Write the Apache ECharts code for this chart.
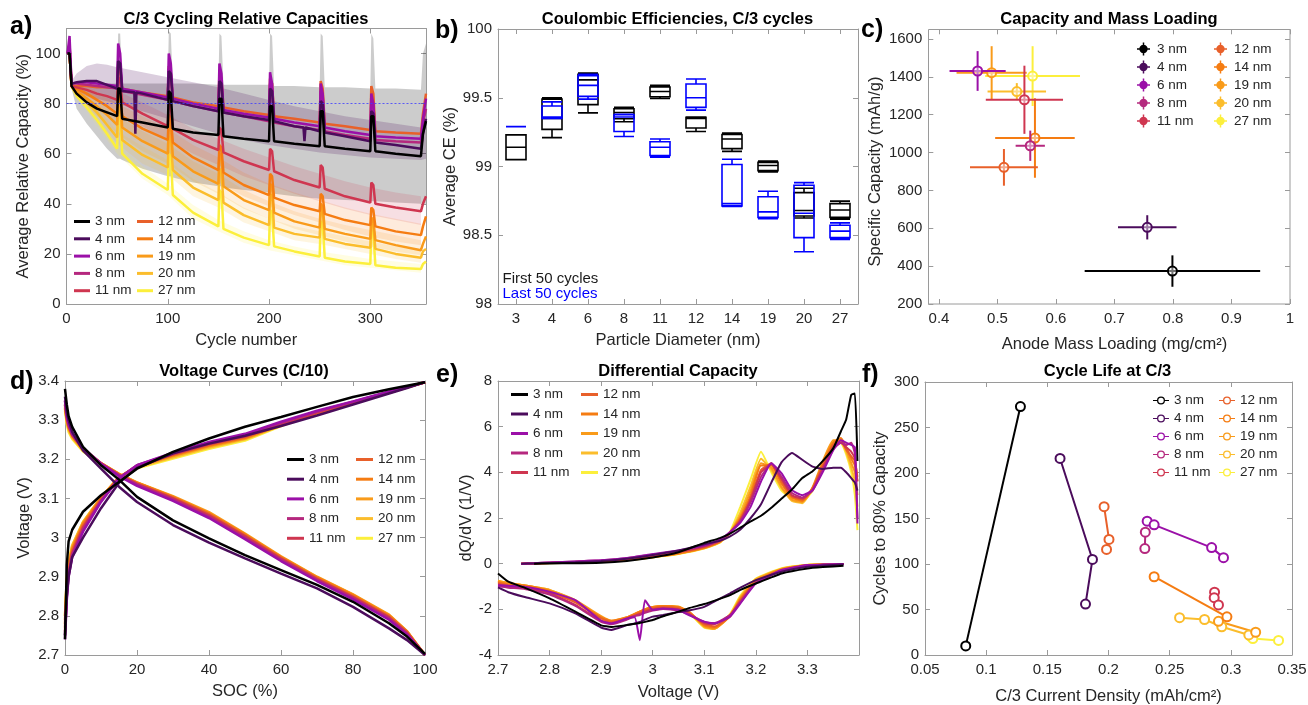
<!DOCTYPE html>
<html>
<head>
<meta charset="utf-8">
<script src="https://cdn.jsdelivr.net/npm/echarts@6/dist/echarts.min.js"></script>
<style>
  html, body { margin: 0; padding: 0; background: #fff; }
  #main { width: 1308px; height: 705px; }
</style>
</head>
<body>
<div id="main"></div>
<script>
const N = null;

const sizeNames = ['3 nm', '4 nm', '6 nm', '8 nm', '11 nm', '12 nm', '14 nm', '19 nm', '20 nm', '27 nm'];
const sizeColors = ['#000000', '#4b0c5c', '#9b10a8', '#b5287e', '#cf3650', '#e8602a', '#f57c12', '#f99b1a', '#fbbd2c', '#fcef3c'];

// ---- a) C/3 cycling relative capacities ----
const aCycle = [1, 3, 5, 10, 20, 30, 40, 50, 51, 53, 55, 67, 68, 69, 75, 100, 101, 103, 105, 125, 150, 151, 153, 155, 175, 200, 201, 203, 205, 225, 234, 235, 236, 250, 251, 253, 255, 275, 300, 301, 303, 305, 325, 350, 352, 355];
const a3 = [100, 100, 87, 84, 80.5, 78, 76.5, 75, 86, 86, 74, N, N, N, 72.5, 70.5, 85, 84, 70, 68.5, 67.5, 82, 82, 67, 66, 65, 79, 79, 65, 64, N, N, N, 63, 77, 77, 63, 62, 61, 75, 75, 61, 60, 59, 68, 73];
const a4 = [100, 100, 88, 88.5, 89, 89, 87.5, 86, 97, 96, 85, 84.5, 68, 84.5, 84, 81.5, 93, 92, 81, 79, 77, 89, 88, 76.5, 75, 73.5, 86, 85, 73, 71, 70.5, 65, 70.5, 69, 81, 80, 68.5, 67, 65, 77, 76, 64.5, 63.5, 62, 68, 74];
const a6 = [100, 107, 88, 88.5, 88.5, 88, 87.5, 87, 104, 100, 86, N, N, N, 84.5, 82.5, 100, 96, 82, 80, 78, 96, 92, 77.5, 76, 74.5, 92.5, 88, 74, 72.5, N, N, N, 71, 88, 84, 70.5, 69, 67.5, 84, 80, 67, 66.5, 66, 74, 82];
const a8 = [100, 104, 88, 88, 87.5, 87, 86.5, 86, 97, 95, 85, N, N, N, 83.5, 81.5, 94, 92, 81, 79, 77, 91, 89, 76.5, 75, 73, 88, 86, 72.5, 71, N, N, N, 69.5, 85, 83, 69, 67.5, 66, 82, 80, 65.5, 65, 64.5, 72, 78];
const a11 = [100, 100, 87, 86.5, 85.5, 84, 83, 81.5, 90.5, 89.5, 80.5, N, N, N, 76, 71, 80, 79, 70, 65.5, 61.5, 70.5, 69.5, 60.5, 57, 53.5, 62, 61, 53, 49.5, N, N, N, 46.5, 55.5, 54.5, 46, 43, 40.5, 48.5, 47.5, 40, 38.5, 37, 40, 43];
const a12 = [100, 103, 87, 87, 87, 86.5, 86.5, 86.5, 95, 93, 86, N, N, N, 84.5, 83, 95, 92, 82.5, 80.5, 79, 92, 90, 78.5, 77, 75.5, 90, 88, 75, 74, N, N, N, 72.5, 89, 86, 72, 71, 69.5, 87, 84, 69, 68.5, 68, 76, 84];
const a14 = [100, 100, 87, 86, 84, 81.5, 79, 76, 86, 85, 75, N, N, N, 70, 65.5, 75.5, 74.5, 64.5, 58.5, 53.5, 63.5, 62.5, 52.5, 47.5, 43.5, 52, 51, 42.5, 39.5, N, N, N, 37, 44, 43, 36, 33.5, 31.5, 38.5, 37.5, 31, 29, 27.5, 31, 35];
const a19 = [100, 100, 87, 85, 82, 79, 75.5, 71.5, 83, 82, 70.5, N, N, N, 65, 60, 72, 71, 59, 53, 48, 60, 59, 47, 41.5, 37.5, 48, 47, 36.5, 33, N, N, N, 30.5, 40, 39, 30, 28, 26, 34.5, 33.5, 25.5, 23.5, 21.5, 24, 27];
const a20 = [100, 100, 87, 84, 80.5, 76.5, 71.5, 66.5, 79, 78, 65.5, N, N, N, 59.5, 54.5, 67, 66, 53.5, 46.5, 41.5, 54, 53, 40.5, 35.5, 31.5, 44, 43, 30.5, 28, N, N, N, 26.5, 38, 37, 26, 24, 22.5, 32, 31, 22, 20, 18.5, 21, 22];
const a27 = [100, 100, 87, 83, 78.5, 73.5, 68, 62, 76, 75, 60, N, N, N, 52, 45.5, 60, 59, 43.5, 36.5, 31, 45.5, 44.5, 30, 26.5, 23.5, 37.5, 36.5, 23, 21, N, N, N, 19, 33, 32, 18.5, 17, 16, 29.5, 28.5, 15.5, 14.5, 14, 16, 17];
const threshold80 = 80;

// spread bands (min / max of cells)
const bandCycG = [3, 5, 10, 20, 30, 40, 50, 51, 53, 55, 75, 100, 101, 103, 105, 125, 150, 151, 153, 155, 175, 200, 201, 203, 205, 225, 250, 251, 253, 255, 275, 300, 301, 303, 305, 325, 350, 352, 355];
const band3Hi = [102, 88, 87.5, 87, 87.5, 88, 88, 108, 108, 88, 88, 88, 109, 108, 88, 88, 87.5, 108, 107, 87.5, 87.5, 87.5, 108, 107, 87, 87, 86.5, 108, 107, 86.5, 86.5, 86, 108, 106, 86, 86, 85.5, 100, 104];
const band3Lo = [98, 86, 78, 72, 67, 62, 58, 58, 58, 57.5, 54, 51, 51, 51, 50.5, 48.5, 47, 47, 47, 46.5, 45.5, 44.5, 44.5, 44.5, 44, 43, 42, 42, 42, 42, 41.5, 41, 41, 41, 41, 40.5, 40, 40, 40];
const bandCycP = [5, 10, 20, 30, 40, 50, 75, 100, 125, 150, 175, 200, 225, 250, 275, 300, 325, 350, 355];
const band4Hi = [89, 92, 95, 96, 95.5, 94.5, 92.5, 90.5, 88.5, 86.5, 84, 81.5, 79, 77, 75, 73.5, 72, 70.5, 72];
const band4Lo = [87, 85, 83, 82, 81, 80, 77, 74, 71, 68, 65.5, 63.5, 62, 60.5, 59.5, 58.5, 58, 57.5, 58];
const bandCycL = [5, 25, 50, 75, 100, 125, 150, 175, 200, 225, 250, 275, 300, 325, 350];
const band11Hi = [88, 88, 85, 80.5, 75.5, 70, 66, 62, 58.5, 55, 52, 49, 46.5, 44.5, 43];
const band11Lo = [86, 82, 77, 71, 65.5, 60, 55.5, 51, 47.5, 44, 41, 38, 35.5, 33.5, 31.5];
const band14Hi = [88, 86, 80, 75, 70, 63.5, 58.5, 52.5, 48, 44.5, 41.5, 38.5, 36, 34, 32];
const band14Lo = [86, 79, 72, 65, 60, 53.5, 48.5, 43, 39, 35.5, 32.5, 29.5, 27, 25, 23.5];
const band19Hi = [88, 84, 75, 69, 64, 57, 52, 45.5, 41, 37, 34, 31.5, 29.5, 27.5, 25.5];
const band19Lo = [86, 77, 68, 61, 56, 49, 44, 38, 34, 30, 27.5, 25, 23, 21, 19.5];
const band20Hi = [88, 81, 69, 63, 57.5, 50, 44.5, 38.5, 34, 31, 29, 27, 25, 23, 21.5];
const band20Lo = [86, 76, 64, 56, 51.5, 43, 38.5, 32.5, 29, 25.5, 24, 22, 20, 18, 16.5];
const band27Hi = [88, 78, 64, 55, 48, 39.5, 33.5, 29, 25.5, 23, 21, 19.5, 18, 17, 16];
const band27Lo = [86, 74, 60, 50, 43.5, 34, 29, 24.5, 21.5, 19.5, 17.5, 15.5, 14.5, 13.5, 12.5];

// ---- b) coulombic efficiencies, [min, q1, median, q3, max] ----
const bSizes = ['3', '4', '6', '8', '11', '12', '14', '19', '20', '27'];
const bFirst = [
  [99.05, 99.05, 99.14, 99.23, 99.23],
  [99.21, 99.27, 99.35, 99.49, 99.50],
  [99.39, 99.45, 99.63, 99.67, 99.68],
  [99.325, 99.347, 99.393, 99.42, 99.43],
  [99.495, 99.507, 99.546, 99.578, 99.59],
  [99.255, 99.28, 99.35, 99.357, 99.36],
  [99.11, 99.13, 99.2, 99.233, 99.243],
  [98.96, 98.97, 99.007, 99.03, 99.04],
  [98.626, 98.64, 98.68, 98.81, 98.842],
  [98.617, 98.63, 98.684, 98.73, 98.748]
];
const bLast = [
  [99.29, 99.29, 99.29, 99.29, 99.29],
  [99.35, 99.35, 99.36, 99.44, 99.47],
  [99.49, 99.51, 99.59, 99.66, 99.67],
  [99.218, 99.255, 99.36, 99.376, 99.38],
  [99.068, 99.08, 99.14, 99.18, 99.2],
  [99.41, 99.43, 99.5, 99.6, 99.636],
  [98.71, 98.714, 98.73, 99.015, 99.053],
  [98.62, 98.63, 98.67, 98.78, 98.82],
  [98.38, 98.483, 98.66, 98.864, 98.883],
  [98.47, 98.483, 98.53, 98.573, 98.59]
];

// ---- c) capacity vs mass loading ----
const cLoad = [0.799, 0.756, 0.466, 0.556, 0.546, 0.511, 0.564, 0.490, 0.533, 0.560];
const cLoadErr = [0.150, 0.050, 0.048, 0.025, 0.066, 0.058, 0.068, 0.060, 0.050, 0.081];
const cCap = [374, 605, 1431, 1036, 1279, 922, 1077, 1422, 1322, 1404];
const cCapErr = [83, 64, 105, 80, 180, 97, 210, 140, 45, 158];

// ---- d) voltage curves C/10 ----
const dSoc = [0, 0.5, 1, 2, 5, 10, 15, 20, 30, 40, 50, 60, 70, 80, 90, 95, 100];
const dChg3 = [2.74, 2.93, 2.99, 3.02, 3.066, 3.108, 3.142, 3.176, 3.219, 3.253, 3.283, 3.308, 3.334, 3.359, 3.379, 3.388, 3.397];
const dChg4 = [2.75, 2.85, 2.9, 2.95, 3.0, 3.075, 3.14, 3.178, 3.215, 3.24, 3.26, 3.285, 3.312, 3.34, 3.368, 3.382, 3.397];
const dChg6 = [2.74, 2.84, 2.9, 2.95, 3.015, 3.091, 3.151, 3.185, 3.217, 3.244, 3.265, 3.296, 3.324, 3.348, 3.373, 3.385, 3.397];
const dChg8 = [2.75, 2.85, 2.905, 2.955, 3.02, 3.093, 3.152, 3.185, 3.215, 3.242, 3.262, 3.293, 3.322, 3.347, 3.372, 3.385, 3.397];
const dChg11 = [2.76, 2.86, 2.91, 2.96, 3.025, 3.095, 3.152, 3.184, 3.213, 3.239, 3.259, 3.29, 3.32, 3.346, 3.371, 3.384, 3.397];
const dChg12 = [2.77, 2.87, 2.915, 2.965, 3.03, 3.098, 3.153, 3.183, 3.212, 3.237, 3.257, 3.289, 3.319, 3.345, 3.371, 3.384, 3.397];
const dChg14 = [2.78, 2.88, 2.925, 2.97, 3.035, 3.1, 3.154, 3.182, 3.21, 3.235, 3.255, 3.288, 3.318, 3.345, 3.37, 3.384, 3.397];
const dChg19 = [2.79, 2.89, 2.93, 2.975, 3.038, 3.102, 3.155, 3.181, 3.208, 3.233, 3.253, 3.287, 3.318, 3.344, 3.37, 3.384, 3.397];
const dChg20 = [2.8, 2.895, 2.935, 2.98, 3.04, 3.103, 3.154, 3.179, 3.205, 3.23, 3.251, 3.286, 3.317, 3.344, 3.37, 3.383, 3.397];
const dChg27 = [2.8, 2.9, 2.94, 2.98, 3.04, 3.103, 3.153, 3.177, 3.202, 3.227, 3.248, 3.285, 3.317, 3.344, 3.37, 3.383, 3.397];
const dDis3 = [3.38, 3.34, 3.31, 3.283, 3.232, 3.185, 3.148, 3.104, 3.044, 2.998, 2.955, 2.917, 2.879, 2.836, 2.781, 2.747, 2.703];
const dDis4 = [3.36, 3.32, 3.3, 3.27, 3.223, 3.176, 3.13, 3.091, 3.032, 2.987, 2.947, 2.908, 2.87, 2.823, 2.768, 2.738, 2.7];
const dDis6 = [3.35, 3.31, 3.29, 3.265, 3.228, 3.188, 3.157, 3.132, 3.094, 3.05, 2.996, 2.94, 2.889, 2.842, 2.79, 2.752, 2.7];
const dDis8 = [3.35, 3.31, 3.29, 3.266, 3.229, 3.19, 3.159, 3.135, 3.097, 3.053, 2.999, 2.943, 2.891, 2.845, 2.793, 2.754, 2.7];
const dDis11 = [3.34, 3.305, 3.285, 3.262, 3.226, 3.189, 3.16, 3.137, 3.1, 3.057, 3.003, 2.946, 2.894, 2.848, 2.796, 2.757, 2.7];
const dDis12 = [3.34, 3.305, 3.285, 3.262, 3.226, 3.19, 3.161, 3.138, 3.102, 3.06, 3.005, 2.948, 2.896, 2.85, 2.798, 2.758, 2.7];
const dDis14 = [3.335, 3.3, 3.28, 3.26, 3.225, 3.19, 3.162, 3.14, 3.104, 3.062, 3.008, 2.95, 2.898, 2.853, 2.801, 2.76, 2.7];
const dDis19 = [3.33, 3.3, 3.28, 3.258, 3.224, 3.19, 3.163, 3.141, 3.106, 3.065, 3.01, 2.952, 2.9, 2.855, 2.803, 2.761, 2.7];
const dDis20 = [3.33, 3.295, 3.275, 3.255, 3.222, 3.19, 3.163, 3.14, 3.104, 3.062, 3.008, 2.95, 2.899, 2.854, 2.802, 2.76, 2.7];
const dDis27 = [3.325, 3.29, 3.27, 3.252, 3.22, 3.188, 3.161, 3.138, 3.1, 3.058, 3.004, 2.947, 2.896, 2.85, 2.798, 2.757, 2.7];

// ---- e) differential capacity ----
const eVc = [2.745, 2.77, 2.8, 2.85, 2.9, 2.95, 3.0, 3.05, 3.1, 3.13, 3.15, 3.17, 3.19, 3.21, 3.23, 3.25, 3.27, 3.29, 3.31, 3.33, 3.35, 3.365, 3.375, 3.385, 3.392, 3.397];
const eCh3 = [N, 0, 0.01, 0.02, 0.04, 0.12, 0.27, 0.5, 0.91, 1.12, 1.32, 1.58, 1.85, 2.1, 2.45, 2.85, 3.25, 3.75, 4.05, 4.5, 5.05, 5.8, 6.3, 7.4, 7.45, 4.5];
const eCh4 = [0, 0.01, 0.03, 0.06, 0.12, 0.22, 0.38, 0.58, 0.85, 1.0, 1.2, 1.5, 2.0, 2.6, 3.55, 4.45, 4.85, 4.55, 4.25, 4.15, 4.2, 4.2, 4.0, 3.75, 3.55, 3.2];
const eCh6 = [0, 0.02, 0.05, 0.1, 0.15, 0.25, 0.42, 0.58, 0.8, 1.05, 1.39, 1.8, 2.5, 3.6, 4.4, 3.95, 3.22, 3.0, 3.22, 4.02, 4.97, 5.4, 5.3, 5.2, 5.1, 1.76];
const eCh8 = [0, 0.02, 0.05, 0.1, 0.15, 0.24, 0.4, 0.56, 0.78, 1.03, 1.38, 1.85, 2.7, 3.8, 4.4, 3.8, 3.1, 2.9, 3.2, 4.1, 5.0, 5.3, 5.2, 5.3, 4.8, 2.0];
const eCh11 = [0, 0.01, 0.04, 0.08, 0.13, 0.22, 0.37, 0.52, 0.75, 1.0, 1.37, 1.9, 2.8, 4.0, 4.35, 3.7, 3.0, 2.85, 3.25, 4.2, 5.1, 5.3, 5.1, 4.9, 4.6, 3.6];
const eCh12 = [0, 0.01, 0.03, 0.07, 0.12, 0.2, 0.34, 0.5, 0.72, 0.98, 1.36, 1.95, 2.9, 4.1, 4.4, 3.6, 2.95, 2.8, 3.3, 4.3, 5.2, 5.4, 5.0, 4.7, 4.5, 3.8];
const eCh14 = [0, 0.01, 0.03, 0.06, 0.1, 0.18, 0.3, 0.45, 0.7, 0.95, 1.35, 2.0, 3.0, 4.3, 4.3, 3.5, 2.9, 2.75, 3.3, 4.4, 5.3, 5.5, 5.1, 4.6, 4.3, 3.6];
const eCh19 = [0, 0.01, 0.03, 0.06, 0.1, 0.17, 0.29, 0.44, 0.68, 0.94, 1.36, 2.1, 3.2, 4.4, 4.2, 3.35, 2.8, 2.7, 3.35, 4.5, 5.4, 5.4, 5.0, 4.4, 4.0, 3.0];
const eCh20 = [0, 0.01, 0.03, 0.05, 0.09, 0.16, 0.28, 0.43, 0.67, 0.93, 1.38, 2.25, 3.4, 4.6, 4.1, 3.3, 2.75, 2.65, 3.3, 4.4, 5.3, 5.3, 4.9, 4.2, 3.6, 2.5];
const eCh27 = [0, 0.01, 0.02, 0.05, 0.09, 0.15, 0.27, 0.42, 0.66, 0.92, 1.4, 2.5, 3.7, 4.9, 4.0, 3.2, 2.85, 2.7, 3.2, 4.38, 5.33, 5.3, 4.8, 4.0, 3.0, 1.47];
const eVd = [3.37, 3.33, 3.3, 3.25, 3.2, 3.17, 3.15, 3.12, 3.1, 3.07, 3.05, 3.02, 3.0, 2.985, 2.975, 2.965, 2.95, 2.92, 2.9, 2.85, 2.8, 2.75, 2.72, 2.7];
const eDis3 = [-0.09, -0.15, -0.21, -0.43, -0.87, -1.15, -1.38, -1.62, -1.77, -1.95, -2.1, -2.3, -2.47, -2.55, -2.6, -2.63, -2.69, -2.77, -2.7, -2.1, -1.52, -1.04, -0.79, -0.43];
const eDis4 = [-0.03, -0.08, -0.14, -0.35, -0.72, -1.05, -1.3, -1.65, -1.89, -2.05, -2.12, -2.25, -2.32, -2.45, -2.55, -2.62, -2.69, -2.9, -2.8, -2.18, -1.74, -1.45, -1.25, -1.04];
const eDis6 = [-0.02, -0.04, -0.06, -0.28, -0.87, -1.74, -2.32, -2.62, -2.54, -2.25, -2.03, -1.96, -2.03, -1.6, -3.35, -2.35, -2.4, -2.62, -2.5, -1.6, -1.23, -1.01, -0.97, -0.94];
const eDis8 = [-0.02, -0.05, -0.08, -0.3, -0.85, -1.7, -2.25, -2.6, -2.55, -2.22, -2.05, -1.98, -2.05, -2.15, -2.25, -2.3, -2.45, -2.65, -2.55, -1.85, -1.35, -1.1, -1.05, -0.98];
const eDis11 = [-0.02, -0.05, -0.08, -0.3, -0.82, -1.65, -2.25, -2.65, -2.6, -2.2, -2.0, -1.95, -2.0, -2.1, -2.2, -2.28, -2.4, -2.6, -2.5, -1.8, -1.3, -1.05, -1.0, -0.9];
const eDis12 = [-0.02, -0.04, -0.07, -0.28, -0.8, -1.6, -2.3, -2.75, -2.65, -2.15, -1.95, -1.9, -1.95, -2.05, -2.15, -2.25, -2.4, -2.55, -2.4, -1.7, -1.25, -1.0, -0.95, -0.85];
const eDis14 = [-0.02, -0.04, -0.07, -0.25, -0.75, -1.55, -2.3, -2.8, -2.7, -2.1, -1.9, -1.85, -1.9, -2.0, -2.1, -2.2, -2.35, -2.5, -2.35, -1.65, -1.2, -0.95, -0.9, -0.8];
const eDis19 = [-0.02, -0.03, -0.06, -0.23, -0.7, -1.5, -2.3, -2.85, -2.75, -2.1, -1.88, -1.85, -1.9, -2.0, -2.1, -2.2, -2.35, -2.5, -2.3, -1.6, -1.15, -0.95, -0.85, -0.75];
const eDis20 = [-0.02, -0.03, -0.06, -0.22, -0.68, -1.45, -2.25, -2.85, -2.78, -2.12, -1.9, -1.85, -1.9, -2.0, -2.1, -2.22, -2.38, -2.55, -2.35, -1.62, -1.15, -0.95, -0.85, -0.75];
const eDis27 = [-0.02, -0.03, -0.05, -0.2, -0.65, -1.4, -2.2, -2.85, -2.8, -2.15, -1.9, -1.88, -1.92, -2.0, -2.1, -2.25, -2.4, -2.6, -2.4, -1.65, -1.2, -0.98, -0.88, -0.78];

// ---- f) cycle life, [current density, cycles to 80%] per cell ----
const f3 = [[0.0833, 10], [0.128, 273]];
const f4 = [[0.1604, 216], [0.1869, 105], [0.1812, 56]];
const f6 = [[0.2316, 147], [0.2373, 143], [0.2843, 118], [0.294, 107]];
const f8 = [[0.2301, 135], [0.2297, 117]];
const f11 = [[0.2867, 69], [0.2864, 63], [0.2899, 55]];
const f12 = [[0.1964, 163], [0.2004, 127], [0.1984, 116]];
const f14 = [[0.2373, 86], [0.2968, 42]];
const f19 = [[0.2899, 37], [0.3203, 25]];
const f20 = [[0.2581, 41], [0.2785, 39], [0.2926, 31], [0.3147, 22]];
const f27 = [[0.3156, 21], [0.318, 18], [0.339, 16]];

const FONT = "'Liberation Sans', Arial, Helvetica, sans-serif";
const AXC = '#9a9a9a';
const TXC = '#262626';

function axis(extra, label) {
  return Object.assign({
    axisLine: {show: true, onZero: false, lineStyle: {color: AXC, width: 1}},
    axisTick: {show: true, inside: true, length: 5, lineStyle: {color: AXC}},
    axisLabel: Object.assign({color: TXC, fontSize: 15, fontFamily: FONT, margin: 7}, label || {}),
    splitLine: {show: false},
    nameLocation: 'middle',
    nameTextStyle: {color: TXC, fontSize: 16.5, fontFamily: FONT}
  }, extra);
}
// top / right axes only carry the box ticks
function mirror(extra) {
  return axis(extra, {show: false});
}
const plainNum = v => String(v);

function band(xi, yi, xs, lo, hi, fill) {
  return {
    type: 'custom', xAxisIndex: xi, yAxisIndex: yi, silent: true, z: 1,
    data: [[xs[0], lo[0]]],
    renderItem: function (params, api) {
      let top = xs.map((x, k) => api.coord([x, hi[k]]));
      let bot = xs.map((x, k) => api.coord([x, lo[k]])).reverse();
      return {type: 'polygon', shape: {points: top.concat(bot)}, style: {fill: fill}};
    }
  };
}

function legendCol(names, left, top, icon, w, h, gap) {
  return {
    data: names.map(n => ({name: n, icon: icon})),
    left: left, top: top, orient: 'vertical', padding: 0,
    itemWidth: w, itemHeight: h, itemGap: gap, selectedMode: false,
    itemStyle: {borderWidth: 0},
    textStyle: {fontSize: 13.5, color: TXC, fontFamily: FONT, lineHeight: 15}
  };
}

function txt(x, y, s, size, weight, color, align) {
  return {type: 'text', x: x, y: y, silent: true,
    style: {text: s, fontSize: size, fontWeight: weight, fontFamily: FONT, fill: color, align: align, verticalAlign: 'middle'}};
}

let chartDom = document.getElementById('main');
let myChart = echarts.init(chartDom, null, {renderer: 'canvas'});

let series = [];

// a) bands then lines
series.push(band(0, 0, bandCycG, band3Lo, band3Hi, 'rgba(0,0,0,0.2)'));
series.push(band(0, 0, bandCycP, band4Lo, band4Hi, 'rgba(75,12,92,0.2)'));
series.push(band(0, 0, bandCycL, band11Lo, band11Hi, 'rgba(207,54,80,0.16)'));
series.push(band(0, 0, bandCycL, band14Lo, band14Hi, 'rgba(245,124,18,0.15)'));
series.push(band(0, 0, bandCycL, band19Lo, band19Hi, 'rgba(249,155,26,0.15)'));
series.push(band(0, 0, bandCycL, band20Lo, band20Hi, 'rgba(251,189,44,0.15)'));
series.push(band(0, 0, bandCycL, band27Lo, band27Hi, 'rgba(252,239,60,0.15)'));

const aLines = [a3, a4, a6, a8, a11, a12, a14, a19, a20, a27];
const dChg = [dChg3, dChg4, dChg6, dChg8, dChg11, dChg12, dChg14, dChg19, dChg20, dChg27];
const dDis = [dDis3, dDis4, dDis6, dDis8, dDis11, dDis12, dDis14, dDis19, dDis20, dDis27];
const eCh = [eCh3, eCh4, eCh6, eCh8, eCh11, eCh12, eCh14, eCh19, eCh20, eCh27];
const eDis = [eDis3, eDis4, eDis6, eDis8, eDis11, eDis12, eDis14, eDis19, eDis20, eDis27];
const fPts = [f3, f4, f6, f8, f11, f12, f14, f19, f20, f27];

for (let i = sizeNames.length - 1; i >= 0; i--) {
  let col = sizeColors[i];
  let base = {name: sizeNames[i], type: 'line', symbol: 'none', showSymbol: false, silent: true,
    itemStyle: {color: col}, connectNulls: true, z: 3};
  series.push(Object.assign({}, base, {
    xAxisIndex: 0, yAxisIndex: 0, lineStyle: {width: 2.5, color: col},
    data: aCycle.map((c, k) => [c, aLines[i][k]])
  }));
  series.push(Object.assign({}, base, {xAxisIndex: 7, yAxisIndex: 6,
    lineStyle: {width: 2.5, color: col}, data: dSoc.map((s, k) => [s, dChg[i][k]])}));
  series.push(Object.assign({}, base, {xAxisIndex: 7, yAxisIndex: 6,
    lineStyle: {width: 2.5, color: col}, data: dSoc.map((s, k) => [s, dDis[i][k]])}));
  series.push(Object.assign({}, base, {xAxisIndex: 9, yAxisIndex: 8, smooth: 0.15,
    lineStyle: {width: 2, color: col}, data: eVc.map((v, k) => [v, eCh[i][k]])}));
  series.push(Object.assign({}, base, {xAxisIndex: 9, yAxisIndex: 8, smooth: 0.15,
    lineStyle: {width: 2, color: col}, data: eVd.map((v, k) => [v, eDis[i][k]])}));
  series.push({name: sizeNames[i], type: 'line', xAxisIndex: 11, yAxisIndex: 10, silent: true,
    symbol: 'emptyCircle', symbolSize: 9, lineStyle: {width: 2, color: col},
    itemStyle: {color: col, borderWidth: 2}, data: fPts[i], z: 3});
  series.push({name: sizeNames[i], type: 'custom', xAxisIndex: 5, yAxisIndex: 4, silent: true,
    itemStyle: {color: col}, z: 3,
    data: [[cLoad[i], cCap[i], cLoadErr[i], cCapErr[i]]],
    renderItem: function (params, api) {
      let x = api.value(0), y = api.value(1), ex = api.value(2), ey = api.value(3);
      let c = api.coord([x, y]), l = api.coord([x - ex, y]), r = api.coord([x + ex, y]);
      let t = api.coord([x, y + ey]), b = api.coord([x, y - ey]);
      let color = api.visual('color');
      return {type: 'group', children: [
        {type: 'line', shape: {x1: l[0], y1: l[1], x2: r[0], y2: r[1]}, style: {stroke: color, lineWidth: 2}},
        {type: 'line', shape: {x1: t[0], y1: t[1], x2: b[0], y2: b[1]}, style: {stroke: color, lineWidth: 2}},
        {type: 'circle', shape: {cx: c[0], cy: c[1], r: 4.5}, style: {fill: 'rgba(255,255,255,0.45)', stroke: color, lineWidth: 2}}
      ]};
    }});
}

// 80 % reference line in a), drawn on top of everything there
series.push({type: 'line', xAxisIndex: 0, yAxisIndex: 0, silent: true, z: 6, data: [],
  markLine: {silent: true, symbol: ['none', 'none'], label: {show: false},
    lineStyle: {color: '#3c3cff', type: [2, 2], width: 1.2, opacity: 0.8}, data: [{yAxis: threshold80}]}});

// b) boxplots
series.push({name: 'First 50 cycles', type: 'boxplot', xAxisIndex: 2, yAxisIndex: 2, silent: true,
  boxWidth: [20, 20], itemStyle: {color: 'rgba(0,0,0,0)', borderColor: '#000000', borderWidth: 1.6}, data: bFirst});
series.push({name: 'Last 50 cycles', type: 'boxplot', xAxisIndex: 3, yAxisIndex: 2, silent: true,
  boxWidth: [20, 20], itemStyle: {color: 'rgba(0,0,0,0)', borderColor: '#0000ff', borderWidth: 1.6}, data: bLast});

const iconLineCircle = 'path://M0,3.4H5.2V4.6H0Z M10.8,3.4H16V4.6H10.8Z M8,0A4,4 0 1,1 7.99,0Z M8,1.3A2.7,2.7 0 1,0 8.01,1.3Z';
const iconCross = 'path://M6.2,0H7.8V14H6.2Z M0,6.2H14V7.8H0Z M7,2.5A4.5,4.5 0 1,1 6.99,2.5Z';

let option = {
  backgroundColor: '#ffffff',
  animation: false,
  grid: [
    {left: 66.5, top: 28.5, width: 359.5, height: 275.5},
    {left: 498, top: 29, width: 360, height: 275},
    {left: 939, top: 39, width: 351, height: 265},
    {left: 65, top: 381, width: 360, height: 274},
    {left: 498, top: 381, width: 361, height: 274},
    {left: 925, top: 382, width: 367, height: 273}
  ].map(g => Object.assign({containLabel: false, outerBoundsMode: 'none'}, g)),
  xAxis: [
    axis({gridIndex: 0, type: 'value', min: 0, max: 355, interval: 100, name: 'Cycle number', nameGap: 28}, {showMaxLabel: false}),
    mirror({gridIndex: 0, type: 'value', position: 'top', min: 0, max: 355, interval: 100}),
    axis({gridIndex: 1, type: 'category', data: bSizes, name: 'Particle Diameter (nm)', nameGap: 28,
      axisTick: {show: true, inside: true, length: 5, alignWithLabel: true, lineStyle: {color: AXC}}}),
    {gridIndex: 1, type: 'category', data: bSizes, show: false},
    mirror({gridIndex: 1, type: 'category', data: bSizes, position: 'top',
      axisTick: {show: true, inside: true, length: 5, alignWithLabel: true, lineStyle: {color: AXC}}}),
    axis({gridIndex: 2, type: 'value', min: 0.4, max: 1, interval: 0.1, name: 'Anode Mass Loading (mg/cm²)', nameGap: 32,
      axisLine: {show: false}}),
    mirror({gridIndex: 2, type: 'value', position: 'top', offset: 9.7, min: 0.4, max: 1, interval: 0.1, axisLine: {show: false}}),
    axis({gridIndex: 3, type: 'value', min: 0, max: 100, interval: 20, name: 'SOC (%)', nameGap: 28}),
    mirror({gridIndex: 3, type: 'value', position: 'top', min: 0, max: 100, interval: 20}),
    axis({gridIndex: 4, type: 'value', min: 2.7, max: 3.4, interval: 0.1, name: 'Voltage (V)', nameGap: 29}, {showMaxLabel: false}),
    mirror({gridIndex: 4, type: 'value', position: 'top', min: 2.7, max: 3.4, interval: 0.1}),
    axis({gridIndex: 5, type: 'value', min: 0.05, max: 0.35, interval: 0.05, name: 'C/3 Current Density (mAh/cm²)', nameGap: 33}),
    mirror({gridIndex: 5, type: 'value', position: 'top', min: 0.05, max: 0.35, interval: 0.05})
  ],
  yAxis: [
    axis({gridIndex: 0, type: 'value', min: 0, max: 110, interval: 20, name: 'Average Relative Capacity (%)', nameGap: 33}, {showMaxLabel: false, margin: 6}),
    mirror({gridIndex: 0, type: 'value', position: 'right', min: 0, max: 110, interval: 20}),
    axis({gridIndex: 1, type: 'value', min: 98, max: 100, interval: 0.5, name: 'Average CE (%)', nameGap: 39}, {margin: 6}),
    mirror({gridIndex: 1, type: 'value', position: 'right', min: 98, max: 100, interval: 0.5}),
    axis({gridIndex: 2, type: 'value', min: 200, max: 1600, interval: 200, offset: 10.7, name: 'Specific Capacity (mAh/g)', nameGap: 44,
      axisLine: {show: false}}, {margin: 6, formatter: plainNum}),
    mirror({gridIndex: 2, type: 'value', position: 'right', min: 200, max: 1600, interval: 200, axisLine: {show: false}}),
    axis({gridIndex: 3, type: 'value', min: 2.7, max: 3.4, interval: 0.1, name: 'Voltage (V)', nameGap: 32}, {margin: 6}),
    mirror({gridIndex: 3, type: 'value', position: 'right', min: 2.7, max: 3.4, interval: 0.1}),
    axis({gridIndex: 4, type: 'value', min: -4, max: 8, interval: 2, name: 'dQ/dV (1/V)', nameGap: 23}, {margin: 6}),
    mirror({gridIndex: 4, type: 'value', position: 'right', min: -4, max: 8, interval: 2}),
    axis({gridIndex: 5, type: 'value', min: 0, max: 300, interval: 50, name: 'Cycles to 80% Capacity', nameGap: 36}, {margin: 6}),
    mirror({gridIndex: 5, type: 'value', position: 'right', min: 0, max: 300, interval: 50})
  ],
  legend: [
    legendCol(sizeNames.slice(0, 5), 74, 214, 'rect', 16, 3, 2.3),
    legendCol(sizeNames.slice(5), 137, 214, 'rect', 16, 3, 2.3),
    legendCol(sizeNames.slice(0, 5), 1137, 41.5, iconCross, 17, 13, 3),
    legendCol(sizeNames.slice(5), 1214, 41.5, iconCross, 17, 13, 3),
    legendCol(sizeNames.slice(0, 5), 287, 452, 'rect', 17, 3, 4.7),
    legendCol(sizeNames.slice(5), 356, 452, 'rect', 17, 3, 4.7),
    legendCol(sizeNames.slice(0, 5), 511, 387, 'rect', 17, 3, 4.5),
    legendCol(sizeNames.slice(5), 581, 387, 'rect', 17, 3, 4.5),
    legendCol(sizeNames.slice(0, 5), 1153, 393, iconLineCircle, 16, 8, 3),
    legendCol(sizeNames.slice(5), 1219, 393, iconLineCircle, 16, 8, 3)
  ],
  graphic: [
    {type: 'rect', silent: true, z: 10, shape: {x: 928.5, y: 29.5, width: 361.5, height: 274.5},
      style: {fill: 'none', stroke: AXC, lineWidth: 1}},
    txt(246, 19, 'C/3 Cycling Relative Capacities', 16.5, 'bold', '#000', 'center'),
    txt(677.5, 19, 'Coulombic Efficiencies, C/3 cycles', 16.5, 'bold', '#000', 'center'),
    txt(1109, 19, 'Capacity and Mass Loading', 16.5, 'bold', '#000', 'center'),
    txt(244, 371, 'Voltage Curves (C/10)', 16.5, 'bold', '#000', 'center'),
    txt(678, 371, 'Differential Capacity', 16.5, 'bold', '#000', 'center'),
    txt(1107.5, 371, 'Cycle Life at C/3', 16.5, 'bold', '#000', 'center'),
    txt(10, 27, 'a)', 25, 'bold', '#000', 'left'),
    txt(435, 31, 'b)', 25, 'bold', '#000', 'left'),
    txt(861, 30, 'c)', 25, 'bold', '#000', 'left'),
    txt(10, 382, 'd)', 25, 'bold', '#000', 'left'),
    txt(436, 375, 'e)', 25, 'bold', '#000', 'left'),
    txt(862, 375, 'f)', 25, 'bold', '#000', 'left'),
    txt(502.5, 278.5, 'First 50 cycles', 15, 'normal', '#1a1a1a', 'left'),
    txt(502.5, 294, 'Last 50 cycles', 15, 'normal', '#0000ff', 'left')
  ],
  series: series
};

option && myChart.setOption(option);
</script>
</body>
</html>
